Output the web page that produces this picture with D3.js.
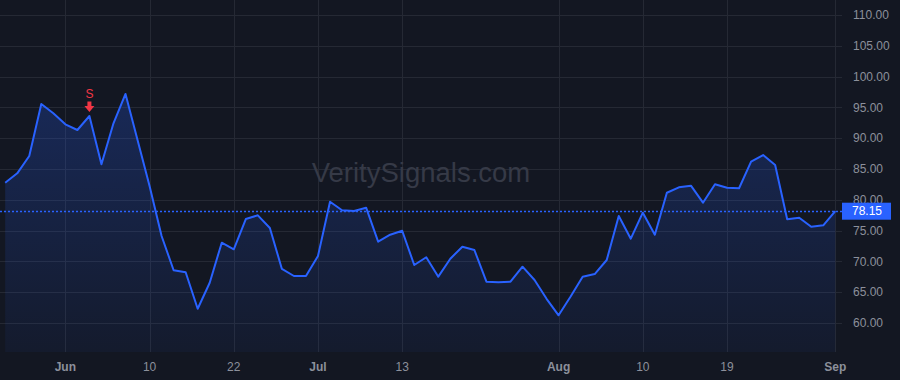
<!DOCTYPE html>
<html>
<head>
<meta charset="utf-8">
<script src="https://cdn.jsdelivr.net/npm/d3@7"></script>
<style>
  html, body { margin: 0; padding: 0; background: #131722; }
  svg { display: block; }
</style>
</head>
<body>
<div id="chart"></div>
<script>
// daily closes
var prices = [
  82.78, 84.30, 87.11, 95.55, 94.04, 92.26, 91.33, 93.60, 85.76, 92.42,
  97.18, 89.71, 82.24, 74.12, 68.56, 68.23, 62.32, 66.54, 73.04, 71.96,
  76.88, 77.48, 75.42, 68.77, 67.63, 67.63, 70.88, 79.69, 78.30, 78.18,
  78.72, 73.20, 74.33, 74.98, 69.42, 70.67, 67.52, 70.44, 72.39, 71.85,
  66.70, 66.61, 66.70, 69.14, 66.98, 63.93, 61.25, 64.30, 67.52, 67.95,
  70.23, 77.37, 73.69, 77.91, 74.33, 81.15, 82.03, 82.29, 79.53, 82.52,
  81.96, 81.87, 86.19, 87.27, 85.65, 76.83, 77.09, 75.63, 75.86, 78.15
];
var tickIndex = [5, 12, 19, 26, 33, 46, 53, 60, 69];
var tickLabels = ['Jun', '10', '22', 'Jul', '13', 'Aug', '10', '19', 'Sep'];
var priceTicks = [60, 65, 70, 75, 80, 85, 90, 95, 100, 105, 110];
var lastPrice = 78.15;
var signals = [{ index: 7, label: 'S' }];
var watermark = 'VeritySignals.com';

var W = 900, H = 380;
var plotW = 842, plotH = 352;
var font = '"Liberation Sans", Arial, sans-serif';
var blue = '#2962ff';

var svg = d3.select('#chart').append('svg')
    .attr('width', W).attr('height', H)
    .style('background', '#131722');

var x = d3.scaleLinear().domain([0, prices.length - 1]).range([5.2, 835.3]);
var y = d3.scaleLinear().domain([60, 110]).range([323, 15]);

var defs = svg.append('defs');
var grad = defs.append('linearGradient')
    .attr('id', 'areaFill')
    .attr('gradientUnits', 'userSpaceOnUse')
    .attr('x1', 0).attr('x2', 0)
    .attr('y1', y(d3.max(prices))).attr('y2', plotH);
grad.append('stop').attr('offset', 0).attr('stop-color', blue).attr('stop-opacity', 0.24);
grad.append('stop').attr('offset', 1).attr('stop-color', blue).attr('stop-opacity', 0.05);

// grid
var grid = svg.append('g');
grid.selectAll('line.h').data(priceTicks)
  .enter().append('line')
    .attr('x1', 0).attr('x2', plotW)
    .attr('y1', function(d) { return Math.round(y(d)) + 0.5; })
    .attr('y2', function(d) { return Math.round(y(d)) + 0.5; })
    .attr('stroke', '#252934');
grid.selectAll('line.v').data(tickIndex)
  .enter().append('line')
    .attr('x1', function(d) { return Math.round(x(d)) + 0.5; })
    .attr('x2', function(d) { return Math.round(x(d)) + 0.5; })
    .attr('y1', 0).attr('y2', plotH)
    .attr('stroke', '#252934');

// watermark
svg.append('text')
    .attr('x', plotW / 2).attr('y', 182)
    .attr('text-anchor', 'middle')
    .style('font-family', font).style('font-size', '27.5px')
    .attr('fill', '#363a47')
    .text(watermark);

// series
var area = d3.area()
    .x(function(d, i) { return x(i); })
    .y0(plotH)
    .y1(function(d) { return y(d); });
var line = d3.line()
    .x(function(d, i) { return x(i); })
    .y(function(d) { return y(d); });

svg.append('path').datum(prices)
    .attr('d', area)
    .attr('fill', 'url(#areaFill)');
svg.append('path').datum(prices)
    .attr('d', line)
    .attr('fill', 'none')
    .attr('stroke', blue)
    .attr('stroke-width', 2)
    .attr('stroke-linejoin', 'round');

// last price line
svg.append('line')
    .attr('x1', 0).attr('x2', plotW)
    .attr('y1', Math.round(y(lastPrice)) + 0.5).attr('y2', Math.round(y(lastPrice)) + 0.5)
    .attr('stroke', blue).attr('stroke-width', 1.3).attr('stroke-dasharray', '2,2');

// sell markers
var sig = svg.selectAll('g.sig').data(signals).enter().append('g')
    .attr('transform', function(d) { return 'translate(' + x(d.index) + ',' + y(prices[d.index]) + ')'; });
sig.append('path')
    .attr('d', 'M-2,-14.5 L2,-14.5 L2,-10 L5,-10 L0,-4 L-5,-10 L-2,-10 Z')
    .attr('fill', '#f23645');
sig.append('text')
    .attr('y', -18.5)
    .attr('text-anchor', 'middle')
    .style('font-family', font).style('font-size', '12px')
    .attr('fill', '#f23645')
    .text(function(d) { return d.label; });

// price axis (the last-price badge sits over the nearest label, as in the original)
svg.selectAll('text.py').data(priceTicks)
  .enter().append('text')
    .attr('x', 853).attr('y', function(d) { return y(d); })
    .attr('dy', '0.35em')
    .style('font-family', font).style('font-size', '12px')
    .attr('fill', '#8c909b')
    .text(function(d) { return d.toFixed(2); });

svg.append('rect')
    .attr('x', plotW).attr('y', y(lastPrice) - 8.5)
    .attr('width', 49).attr('height', 17)
    .attr('fill', blue);
svg.append('text')
    .attr('x', 852).attr('y', y(lastPrice))
    .attr('dy', '0.35em')
    .style('font-family', font).style('font-size', '12px')
    .attr('fill', '#ffffff')
    .text(lastPrice.toFixed(2));

// time axis
svg.selectAll('text.tx').data(tickIndex)
  .enter().append('text')
    .attr('x', function(d) { return x(d); }).attr('y', 371)
    .attr('text-anchor', 'middle')
    .style('font-family', font).style('font-size', '12px')
    .style('font-weight', function(d, i) { return isNaN(+tickLabels[i]) ? 'bold' : 'normal'; })
    .attr('fill', '#8c909b')
    .text(function(d, i) { return tickLabels[i]; });
</script>
</body>
</html>
